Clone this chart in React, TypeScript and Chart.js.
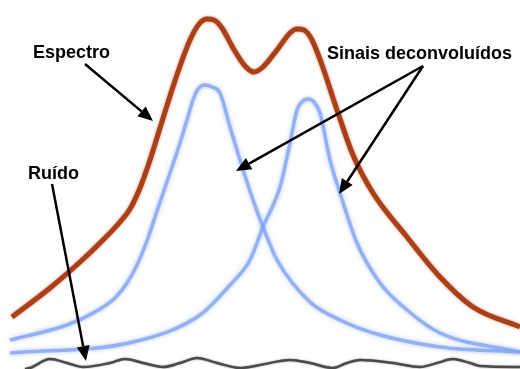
import React, { useEffect, useRef } from "react";
import { Chart, registerables } from "chart.js";

Chart.register(...registerables);

// Channel positions and intensities
const spectrumX = [12, 50, 80, 100, 120, 130, 140, 150, 160, 170, 180, 190, 199, 207, 214, 222, 233, 245, 254, 263, 277, 290, 297, 304, 312, 322, 337, 353, 373, 407, 440, 473, 520];
const spectrumY = [52, 81, 107, 126, 147, 160, 181, 209, 241, 273, 303, 329, 345, 350, 349, 341, 321, 303, 297, 302, 319, 336, 340, 339, 329, 304, 259, 214, 176, 132, 92, 62, 42];

const signal1X = [10, 67, 95, 115, 127, 137, 147, 157, 170, 180, 187, 193, 198, 205, 212, 220, 230, 240, 253, 263, 277, 310, 340, 373, 440, 520];
const signal1Y = [29, 44, 57, 71, 86, 104, 128, 158, 196, 226, 249, 269, 280, 284, 282, 276, 242, 209, 169, 142, 109, 67, 49, 36, 22, 17];

const signal2X = [10, 133, 200, 230, 250, 263, 280, 290, 297, 303, 308, 314, 320, 330, 340, 357, 380, 407, 440, 520];
const signal2Y = [16, 27, 54, 84, 109, 142, 182, 226, 259, 268, 270, 267, 256, 209, 176, 126, 86, 59, 36, 17];

const noiseX = [25, 30, 50, 67, 83, 110, 125, 143, 163, 180, 197, 217, 240, 260, 290, 310, 333, 347, 360, 393, 420, 437, 453, 470, 480, 520];
const noiseY = [0, 1, 10, 6, 2, 6, 10, 6, 2, 6, 11, 6, 1, 4, 9, 6, 1, 6, 9, 6, 2, 6, 10, 6, 3, 2];

// Annotation labels (data coordinates) and arrows
const labelTexts = ["Espectro", "Ruído", "Sinais deconvoluídos"];
const labelX = [33, 28, 327];
const labelY = [311, 190, 310];
const arrowFromX = [85, 52, 423, 423];
const arrowFromY = [305, 185, 303, 303];
const arrowToX = [153, 86, 236, 339];
const arrowToY = [248, 8, 198, 175];

const toPoints = (xs: number[], ys: number[]) => xs.map((x, i) => ({ x, y: ys[i] }));

const glowPlugin = {
  id: "glow",
  beforeDatasetDraw(chart: any, args: any) {
    const ds = chart.data.datasets[args.index] as any;
    if (ds.glowColor) {
      chart.ctx.save();
      chart.ctx.shadowColor = ds.glowColor;
      chart.ctx.shadowBlur = ds.glowBlur || 3;
    }
  },
  afterDatasetDraw(chart: any, args: any) {
    const ds = chart.data.datasets[args.index] as any;
    if (ds.glowColor) chart.ctx.restore();
  },
};

const annotationPlugin = {
  id: "annot",
  afterDraw(chart: any) {
    const { ctx, scales } = chart;
    const xs = scales.x;
    const ys = scales.y;
    ctx.save();
    ctx.fillStyle = "#000";
    ctx.font = "bold 18px 'Liberation Sans', Arial, sans-serif";
    ctx.textAlign = "left";
    ctx.textBaseline = "alphabetic";
    labelTexts.forEach((t, i) => {
      ctx.fillText(t, xs.getPixelForValue(labelX[i]), ys.getPixelForValue(labelY[i]));
    });
    ctx.strokeStyle = "#000";
    ctx.lineWidth = 2.5;
    for (let i = 0; i < arrowFromX.length; i++) {
      const x1 = xs.getPixelForValue(arrowFromX[i]);
      const y1 = ys.getPixelForValue(arrowFromY[i]);
      const x2 = xs.getPixelForValue(arrowToX[i]);
      const y2 = ys.getPixelForValue(arrowToY[i]);
      const ang = Math.atan2(y2 - y1, x2 - x1);
      const len = 15;
      const hw = 6.5;
      const bx = x2 - len * Math.cos(ang);
      const by = y2 - len * Math.sin(ang);
      ctx.beginPath();
      ctx.moveTo(x1, y1);
      ctx.lineTo(bx, by);
      ctx.stroke();
      ctx.beginPath();
      ctx.moveTo(x2, y2);
      ctx.lineTo(bx + hw * Math.sin(ang), by - hw * Math.cos(ang));
      ctx.lineTo(bx - hw * Math.sin(ang), by + hw * Math.cos(ang));
      ctx.closePath();
      ctx.fill();
    }
    ctx.restore();
  },
};

export default function App() {
  const ref = useRef<HTMLCanvasElement>(null);
  useEffect(() => {
    if (!ref.current) return;
    const chart = new Chart(ref.current, {
      type: "line",
      data: {
        datasets: [
          {
            label: "Sinal 1",
            data: toPoints(signal1X, signal1Y),
            borderColor: "rgba(125,160,240,0.75)",
            borderWidth: 3.5,
            glowColor: "rgba(140,170,245,0.9)",
            glowBlur: 4,
          } as any,
          {
            label: "Sinal 2",
            data: toPoints(signal2X, signal2Y),
            borderColor: "rgba(125,160,240,0.75)",
            borderWidth: 3.5,
            glowColor: "rgba(140,170,245,0.9)",
            glowBlur: 4,
          } as any,
          {
            label: "Espectro",
            data: toPoints(spectrumX, spectrumY),
            borderColor: "#a9401a",
            borderWidth: 5,
            glowColor: "rgba(210,120,80,0.9)",
            glowBlur: 3,
          } as any,
          {
            label: "Ruído",
            data: toPoints(noiseX, noiseY),
            borderColor: "#4a4a4a",
            borderWidth: 2.5,
            glowColor: "rgba(120,120,120,0.8)",
            glowBlur: 2,
          } as any,
        ],
      },
      options: {
        responsive: false,
        animation: false,
        layout: { padding: 0 },
        elements: {
          point: { radius: 0, hoverRadius: 0 },
          line: { cubicInterpolationMode: "monotone", fill: false },
        },
        scales: {
          x: { type: "linear", min: 0, max: 520, display: false },
          y: { type: "linear", min: 0, max: 369, display: false },
        },
        plugins: {
          legend: { display: false },
          tooltip: { enabled: false },
        },
      },
      plugins: [glowPlugin, annotationPlugin],
    });
    return () => chart.destroy();
  }, []);
  return (
    <div style={{ position: "fixed", left: 0, top: 0, width: 520, height: 369, background: "#fff" }}>
      <canvas ref={ref} width={520} height={369} style={{ display: "block" }} />
    </div>
  );
}
